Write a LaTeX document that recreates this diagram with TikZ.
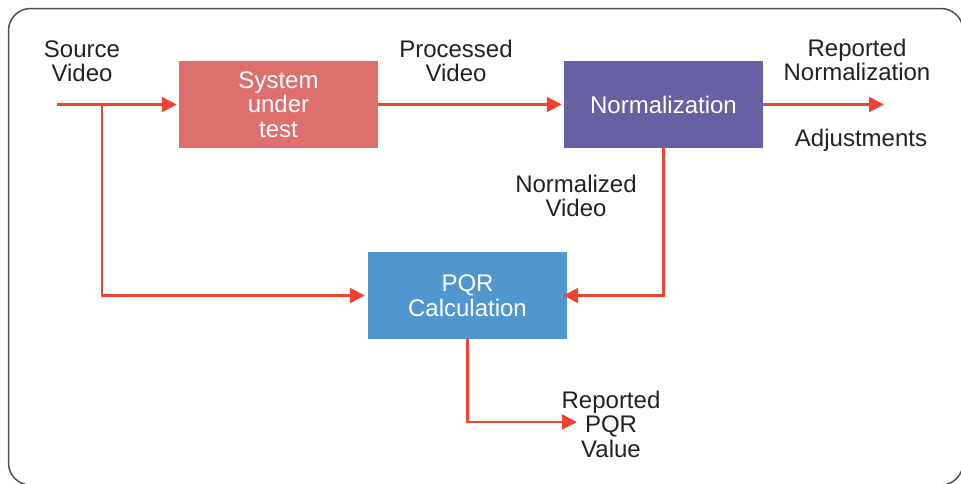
\documentclass[tikz,border=0pt]{standalone}
\usepackage{fontspec}
\setmainfont{Liberation Sans}
\usetikzlibrary{arrows.meta}

\definecolor{flow}{RGB}{238,66,50}
\definecolor{sutfill}{RGB}{221,111,109}
\definecolor{normfill}{RGB}{103,97,164}
\definecolor{pqrfill}{RGB}{80,150,209}
\definecolor{ink}{RGB}{34,34,34}
\definecolor{framecol}{RGB}{80,80,80}

\begin{document}
\begin{tikzpicture}[x=1pt,y=-1pt,
  box/.style={draw=none, minimum width=199pt, minimum height=87pt, inner sep=0pt,
    text=white, align=center, font=\fontsize{24}{24.5}\selectfont},
  lbl/.style={anchor=north, inner sep=0pt, text=ink, align=center,
    font=\fontsize{24}{24.5}\selectfont},
  flowline/.style={draw=flow, line width=2.2pt, -{Triangle[length=15pt,width=15pt]}},
  ]
\useasboundingbox (0,0) rectangle (961,483);

% outer frame, running off the right and bottom edges
\begin{scope}
  \clip (0,0) rectangle (961,483);
  \draw[framecol, line width=1.5pt, rounded corners=22pt] (8.5,8.5) rectangle (963,485);
\end{scope}

% processing blocks
\node[box, fill=sutfill]  (sut)  at (278.5,104.5) {System\\under\\test};
\node[box, fill=normfill] (norm) at (663.5,104.5) {Normalization};
\node[box, fill=pqrfill]  (pqr)  at (467.5,295.5) {PQR\\Calculation};

% free ends and junctions
\coordinate (src)     at (57,104.5);
\coordinate (branch)  at (102,104.5);
\coordinate (normout) at (884,104.5);
\coordinate (pqrout)  at (577,422);

% signal flow
\draw[flowline, shorten >=2pt] (src) -- (sut.west);
\draw[flowline, shorten >=2pt] (sut.east) -- (norm.west);
\draw[flowline] (norm.east) -- (normout);
\draw[flowline, shorten >=3pt] (branch) |- (pqr.west);
\draw[flowline, shorten >=-4pt] (norm.south) |- (pqr.east);
\draw[flowline] (pqr.south) |- (pqrout);

% labels
\node[lbl] (srclbl)  at (82,40.5)   {Source\\Video};
\node[lbl] (proclbl) at (456,39.5)  {Processed\\Video};
\node[lbl] (replbl)  at (857,38.5)  {Reported\\Normalization};
\node[lbl] (adjlbl)  at (861,128.5) {Adjustments};
\node[lbl] (nvlbl)   at (576,174.5) {Normalized\\Video};
\node[lbl] (pqrlbl)  at (611,390.5) {Reported\\PQR\\Value};
\end{tikzpicture}
\end{document}
